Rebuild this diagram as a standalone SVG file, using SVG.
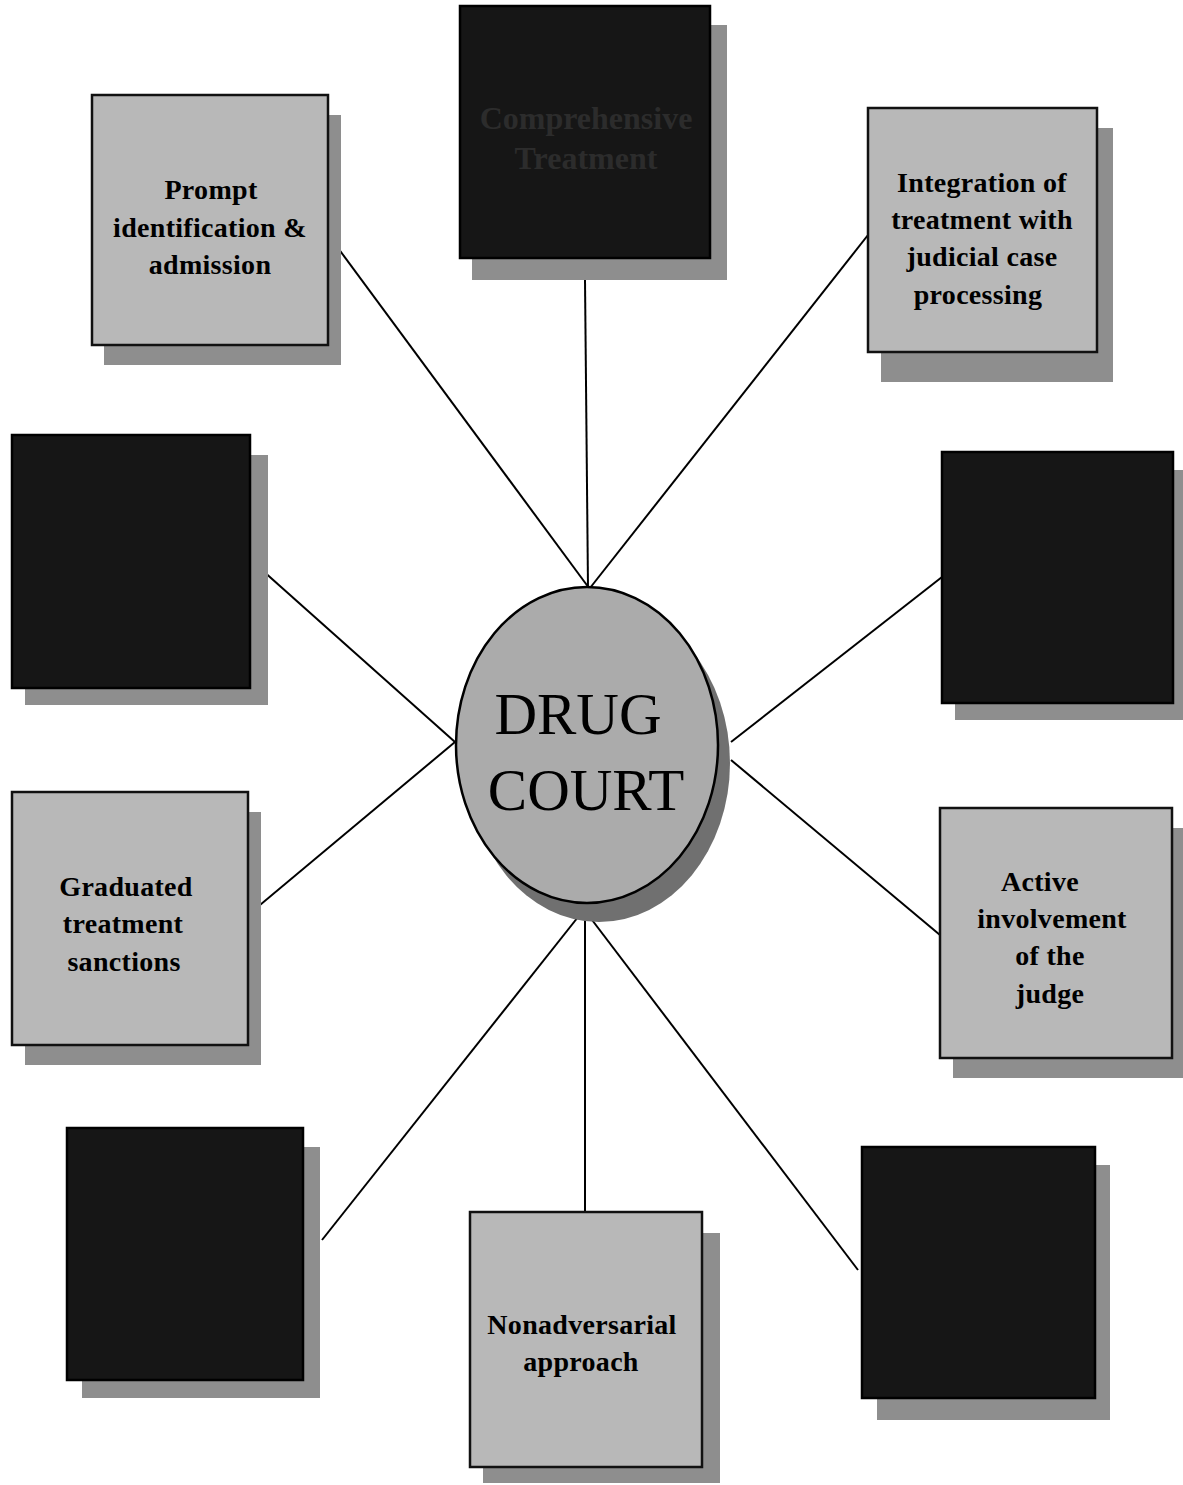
<svg xmlns="http://www.w3.org/2000/svg" width="1183" height="1485" viewBox="0 0 1183 1485">
<style>
.shadow{fill:#8e8e8e;}
.light{fill:#b8b8b8;stroke:#111;stroke-width:2.5;}
.dark{fill:#161616;stroke:#000;stroke-width:2.5;}
.lbl{font-family:"Liberation Serif","Times New Roman",serif;font-weight:bold;font-size:28px;letter-spacing:0.3px;fill:#000;text-anchor:middle;}
.dlbl{font-family:"Liberation Serif","Times New Roman",serif;font-weight:bold;font-size:32px;fill:#2c2c2c;text-anchor:middle;}
.big{font-family:"Liberation Serif","Times New Roman",serif;font-size:59px;fill:#000;text-anchor:middle;}
.conn line{stroke:#000;stroke-width:2;}
</style>
<rect width="1183" height="1485" fill="#ffffff"/>
<g class="conn" id="connectors">
<line x1="338" y1="248" x2="589" y2="588"/>
<line x1="585" y1="280" x2="588" y2="588"/>
<line x1="868" y1="235" x2="590" y2="588"/>
<line x1="262" y1="570" x2="455" y2="742"/>
<line x1="248" y1="915" x2="455" y2="742"/>
<line x1="942" y1="577" x2="731" y2="742"/>
<line x1="940" y1="935" x2="731" y2="760"/>
<line x1="322" y1="1240" x2="582" y2="912"/>
<line x1="585" y1="1212" x2="585" y2="912"/>
<line x1="858" y1="1270" x2="586" y2="912"/>
</g>
<g id="node-comprehensive">
<rect class="shadow" x="472" y="25" width="255" height="255"/>
<rect class="dark" x="460" y="6" width="250" height="252"/>
<text class="dlbl" x="586" y="129">Comprehensive</text>
<text class="dlbl" x="586" y="169">Treatment</text>
</g>
<g id="node-prompt">
<rect class="shadow" x="104" y="115" width="237" height="250"/>
<rect class="light" x="92" y="95" width="236" height="250"/>
<text class="lbl" x="211" y="199">Prompt</text>
<text class="lbl" x="210" y="237">identification &amp;</text>
<text class="lbl" x="210" y="274">admission</text>
</g>
<g id="node-integration">
<rect class="shadow" x="881" y="128" width="232" height="254"/>
<rect class="light" x="868" y="108" width="229" height="244"/>
<text class="lbl" x="982" y="192">Integration of</text>
<text class="lbl" x="982" y="229">treatment with</text>
<text class="lbl" x="982" y="266">judicial case</text>
<text class="lbl" x="978" y="304">processing</text>
</g>
<g id="node-left-dark">
<rect class="shadow" x="25" y="455" width="243" height="250"/>
<rect class="dark" x="12" y="435" width="238" height="253"/>
</g>
<g id="node-right-dark">
<rect class="shadow" x="955" y="470" width="228" height="250"/>
<rect class="dark" x="942" y="452" width="231" height="251"/>
</g>
<g id="node-graduated">
<rect class="shadow" x="25" y="812" width="236" height="253"/>
<rect class="light" x="12" y="792" width="236" height="253"/>
<text class="lbl" x="126" y="896">Graduated</text>
<text class="lbl" x="123" y="933">treatment</text>
<text class="lbl" x="124" y="971">sanctions</text>
</g>
<g id="node-active">
<rect class="shadow" x="953" y="828" width="230" height="250"/>
<rect class="light" x="940" y="808" width="232" height="250"/>
<text class="lbl" x="1040" y="891">Active</text>
<text class="lbl" x="1052" y="928">involvement</text>
<text class="lbl" x="1050" y="965">of the</text>
<text class="lbl" x="1050" y="1003">judge</text>
</g>
<g id="node-bottom-left-dark">
<rect class="shadow" x="82" y="1147" width="238" height="251"/>
<rect class="dark" x="67" y="1128" width="236" height="252"/>
</g>
<g id="node-nonadversarial">
<rect class="shadow" x="483" y="1233" width="237" height="250"/>
<rect class="light" x="470" y="1212" width="232" height="255"/>
<text class="lbl" x="582" y="1334">Nonadversarial</text>
<text class="lbl" x="581" y="1371">approach</text>
</g>
<g id="node-bottom-right-dark">
<rect class="shadow" x="877" y="1165" width="233" height="255"/>
<rect class="dark" x="862" y="1147" width="233" height="251"/>
</g>
<g id="node-drug-court">
<ellipse cx="599" cy="763" rx="131" ry="159" fill="#707070"/>
<ellipse cx="587" cy="745" rx="131" ry="158" fill="#ababab" stroke="#000" stroke-width="2.5"/>
<text class="big" x="578" y="734">DRUG</text>
<text class="big" x="586" y="810">COURT</text>
</g>
</svg>
